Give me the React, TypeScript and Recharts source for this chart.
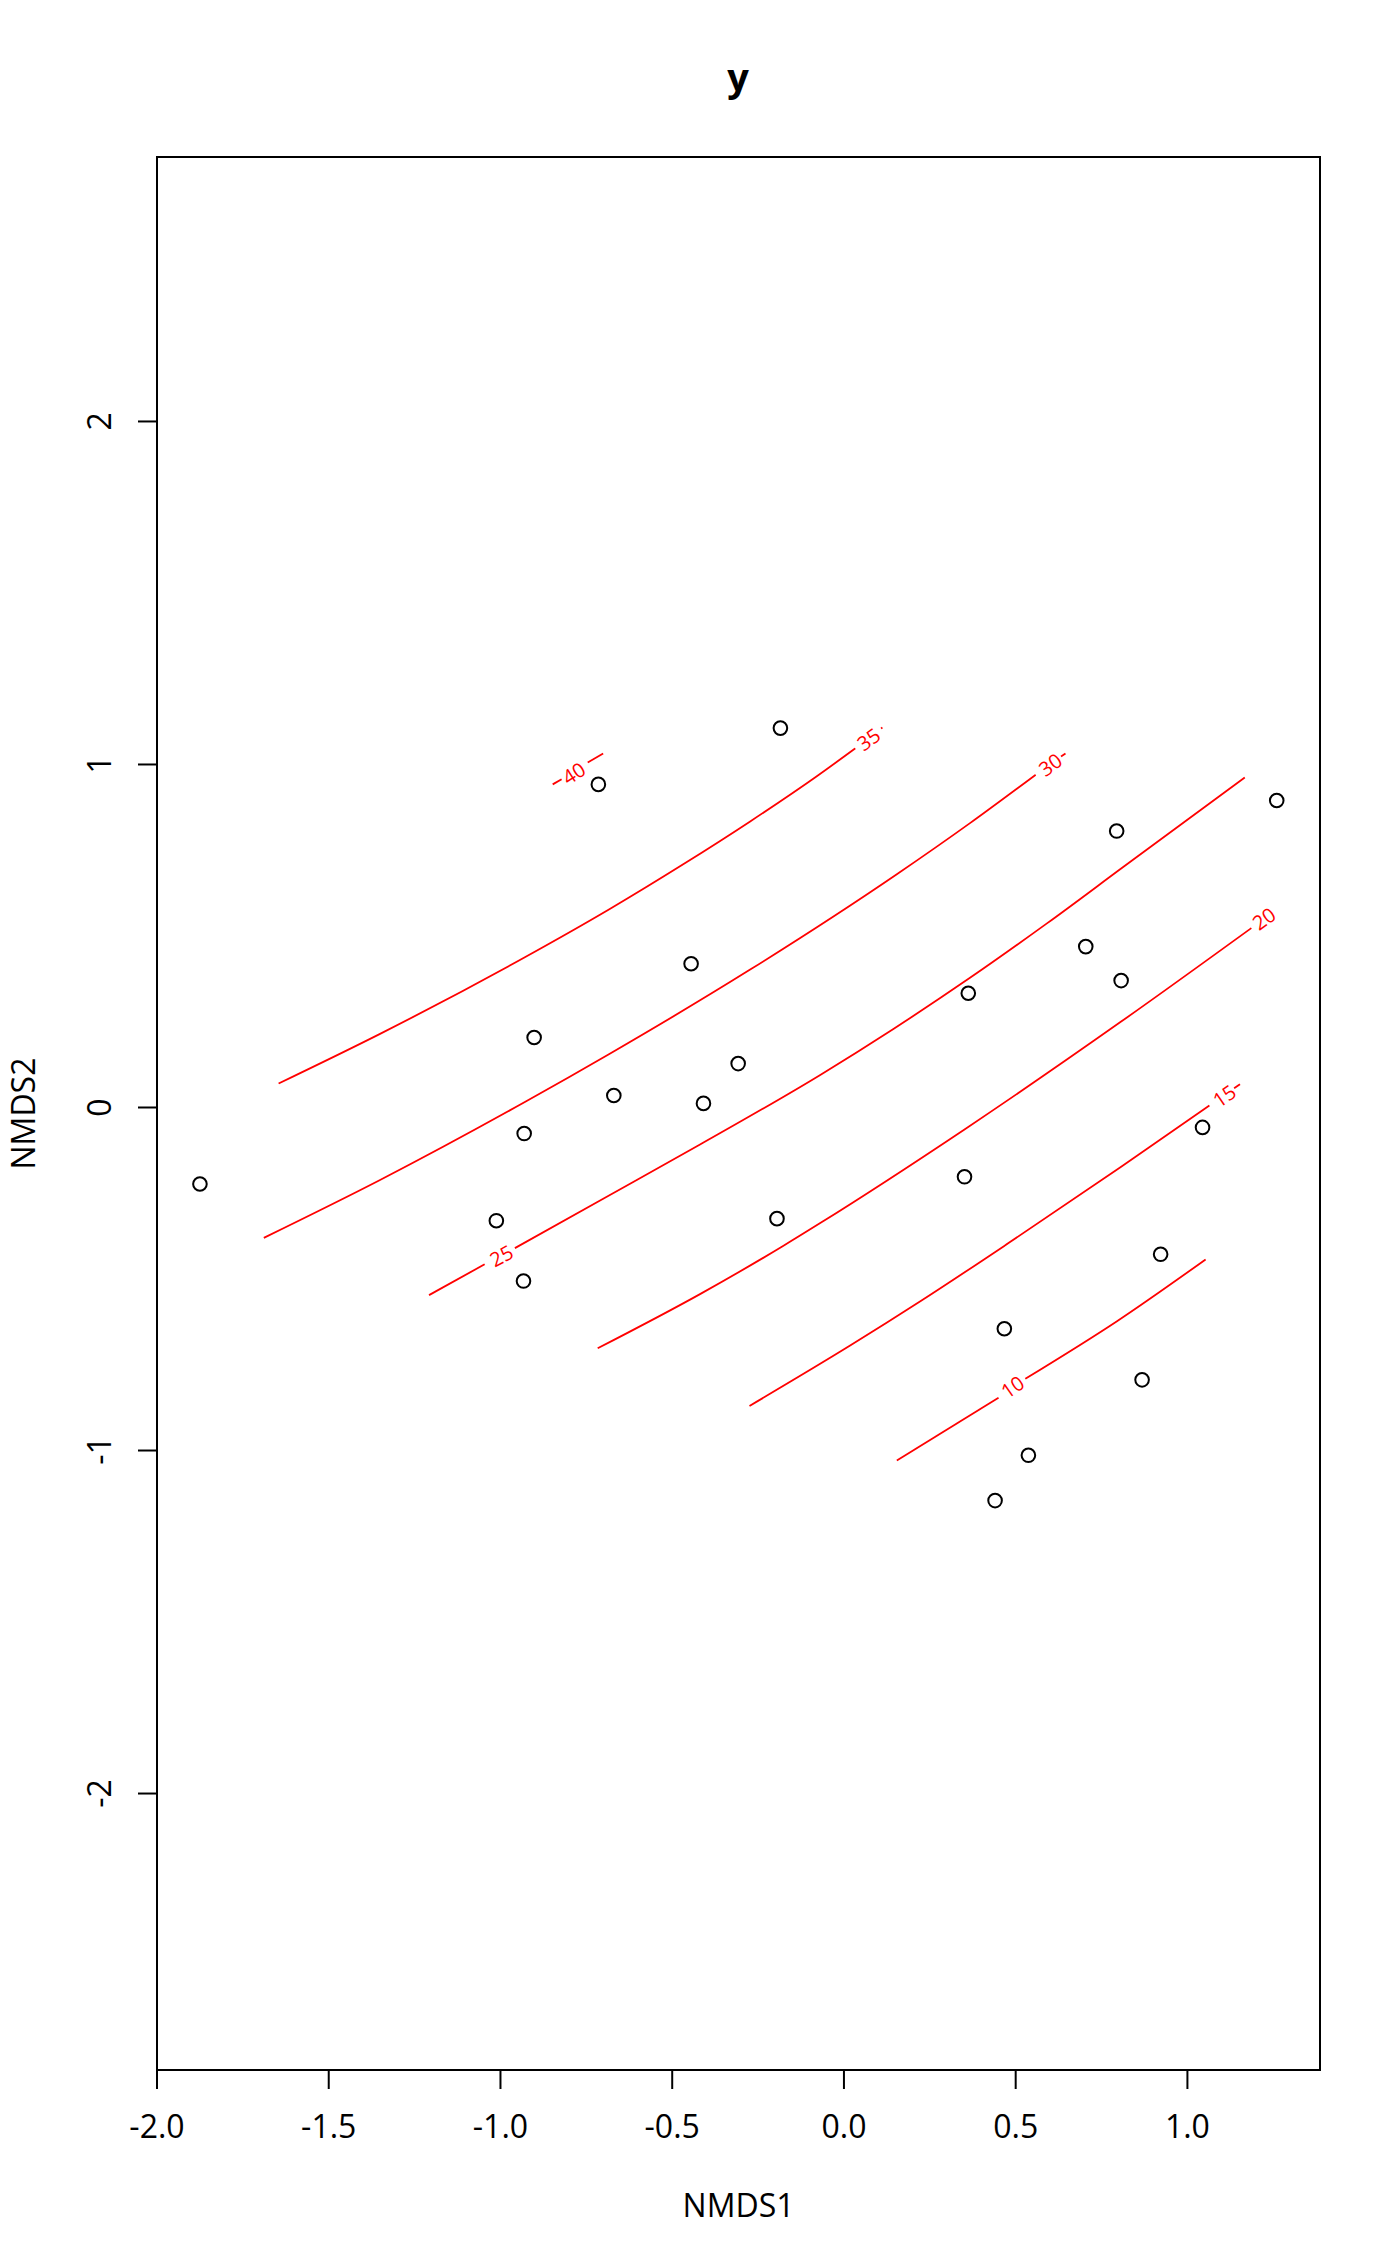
import { ReferenceArea, Scatter, ScatterChart, XAxis, YAxis } from "recharts";

// axes
const X_TICKS = [-2, -1.5, -1, -0.5, 0, 0.5, 1];
const Y_TICKS = [-2, -1, 0, 1, 2];
const X_DOMAIN = [-2, 1.386];
const Y_DOMAIN = [-2.806, 2.771];

// site scores (NMDS1, NMDS2)
const siteX = [
  -1.875, -0.715, -0.185, 1.26, 0.794, 0.704, 0.807, 0.362, -0.445, -0.902, -0.308, -0.67,
  -0.409, -0.931, -1.012, -0.195, -0.933, 0.351, 1.044, 0.922, 0.467, 0.868, 0.537, 0.44,
];
const siteY = [
  -0.223, 0.942, 1.106, 0.895, 0.806, 0.469, 0.37, 0.333, 0.419, 0.204, 0.128, 0.035,
  0.012, -0.076, -0.33, -0.324, -0.506, -0.202, -0.058, -0.428, -0.645, -0.794, -1.014, -1.146,
];

// fitted surface contours, split where the label sits
const c40a = [[-0.848, 0.942], [-0.822, 0.957]];
const c40b = [[-0.746, 1.006], [-0.701, 1.032]];
const c35 = [
  [-1.646, 0.07], [-1.352, 0.214], [-0.929, 0.438], [-0.683, 0.578], [-0.468, 0.709],
  [-0.273, 0.834], [-0.08, 0.965], [0.033, 1.047],
];
const c35tail = [[0.108, 1.105], [0.112, 1.108]];
const c30 = [
  [-1.689, -0.38], [-1.352, -0.212], [-0.929, 0.016], [-0.683, 0.156], [-0.273, 0.402],
  [0.154, 0.68], [0.367, 0.829], [0.558, 0.97],
];
const c30tail = [[0.632, 1.023], [0.645, 1.032]];
const c25a = [[-1.208, -0.547], [-1.046, -0.457]];
const c25b = [
  [-0.958, -0.41], [-0.71, -0.271], [-0.419, -0.108], [-0.069, 0.095], [0.144, 0.229],
  [0.367, 0.378], [0.59, 0.536], [0.813, 0.701], [1.167, 0.962],
];
const c20 = [
  [-0.717, -0.702], [-0.419, -0.544], [-0.176, -0.403], [-0.069, -0.337], [0.351, -0.064],
  [0.805, 0.249], [1.186, 0.523],
];
const c15 = [
  [-0.275, -0.87], [0.018, -0.694], [0.227, -0.562], [0.478, -0.396], [0.805, -0.174],
  [1.064, 0.006],
];
const c15tail = [[1.136, 0.056], [1.153, 0.068]];
const c10a = [[0.154, -1.029], [0.45, -0.846]];
const c10b = [[0.528, -0.791], [0.795, -0.623], [1.053, -0.443]];

const contours = [c40a, c40b, c35, c35tail, c30, c30tail, c25a, c25b, c20, c15, c15tail, c10a, c10b];

// label text, position, and the two line points that give its direction
const levelLabels = [
  { text: "40", at: [-0.786, 0.974], from: c40a[1], to: c40b[0] },
  { text: "35", at: [0.072, 1.073], from: c35[6], to: c35[7] },
  { text: "30", at: [0.601, 0.999], from: c30[6], to: c30[7] },
  { text: "25", at: [-0.997, -0.433], from: c25a[1], to: c25b[0] },
  { text: "20", at: [1.223, 0.55], from: c20[5], to: c20[6] },
  { text: "15", at: [1.108, 0.033], from: c15[4], to: c15[5] },
  { text: "10", at: [0.491, -0.815], from: c10a[1], to: c10b[0] },
];

const FONT = "'Open Sans', 'Noto Sans', sans-serif";
const W = 1400;
const H = 2266;

const sites = siteX.map((x, i) => ({ x, y: siteY[i] }));
const labelData = levelLabels.map((l) => ({
  x: l.at[0],
  y: l.at[1],
  text: l.text,
  angle: (Math.atan2(l.to[1] - l.from[1], l.to[0] - l.from[0]) * 180) / Math.PI,
}));

const Ring = (p: any) => (
  <circle cx={p.cx} cy={p.cy} r={6.8} fill="none" stroke="#000" strokeWidth={2} />
);

const LevelText = (p: any) => (
  <text
    x={p.cx}
    y={p.cy}
    dy="0.36em"
    textAnchor="middle"
    fill="#ff0000"
    fontSize={20}
    fontFamily={FONT}
    transform={`rotate(${-p.payload.angle}, ${p.cx}, ${p.cy})`}
  >
    {p.payload.text}
  </text>
);

const YTick = (p: any) => (
  <text
    x={p.x}
    y={p.y}
    textAnchor="middle"
    fontSize={32}
    fontFamily={FONT}
    fill="#000"
    transform={`rotate(-90, ${p.x}, ${p.y})`}
  >
    {p.payload.value}
  </text>
);

const XTitle = (p: any) => {
  const vb = p.viewBox || { x: 157, y: 2070, width: 1163, height: 100 };
  return (
    <text x={vb.x + vb.width / 2} y={vb.y + 147} textAnchor="middle" fontSize={32} fontFamily={FONT} fill="#000">
      NMDS1
    </text>
  );
};

const YTitle = (p: any) => {
  const vb = p.viewBox || { x: 57, y: 157, width: 100, height: 1913 };
  const cx = vb.x - 22;
  const cy = vb.y + vb.height / 2;
  return (
    <text
      x={cx}
      y={cy}
      textAnchor="middle"
      fontSize={32}
      fontFamily={FONT}
      fill="#000"
      transform={`rotate(-90, ${cx}, ${cy})`}
    >
      NMDS2
    </text>
  );
};

export default function App() {
  return (
    <div style={{ position: "absolute", left: 0, top: 0, width: W, height: H, background: "#fff" }}>
      <svg width={W} height={130} style={{ position: "absolute", left: 0, top: 0 }}>
        <text x={738} y={91} textAnchor="middle" fontSize={38} fontWeight="bold" fontFamily={FONT} fill="#000">
          y
        </text>
      </svg>
      <ScatterChart width={W} height={H} margin={{ top: 157, right: 80, bottom: 96, left: 57 }}>
        <XAxis
          type="number"
          dataKey="x"
          domain={X_DOMAIN}
          ticks={X_TICKS}
          tickFormatter={(v: number) => v.toFixed(1)}
          axisLine={false}
          tickLine={{ stroke: "#000", strokeWidth: 2 }}
          tickSize={19}
          tickMargin={26}
          height={100}
          interval={0}
          tick={{ fill: "#000", fontSize: 32, fontFamily: FONT }}
          label={{ content: XTitle }}
        />
        <YAxis
          type="number"
          dataKey="y"
          domain={Y_DOMAIN}
          ticks={Y_TICKS}
          axisLine={false}
          tickLine={{ stroke: "#000", strokeWidth: 2 }}
          tickSize={19}
          tickMargin={27}
          width={100}
          interval={0}
          tick={YTick}
          label={{ content: YTitle }}
        />
        <ReferenceArea
          x1={X_DOMAIN[0]}
          x2={X_DOMAIN[1]}
          y1={Y_DOMAIN[0]}
          y2={Y_DOMAIN[1]}
          fill="none"
          stroke="#000"
          strokeWidth={2}
          ifOverflow="visible"
        />
        {contours.map((c, i) => (
          <Scatter
            key={i}
            data={c.map(([x, y]) => ({ x, y }))}
            line={{ stroke: "#ff0000", strokeWidth: 1.8 }}
            lineJointType="monotoneX"
            shape={() => <g />}
            legendType="none"
            isAnimationActive={false}
          />
        ))}
        <Scatter data={labelData} shape={LevelText} isAnimationActive={false} />
        <Scatter data={sites} shape={Ring} isAnimationActive={false} />
      </ScatterChart>
    </div>
  );
}
